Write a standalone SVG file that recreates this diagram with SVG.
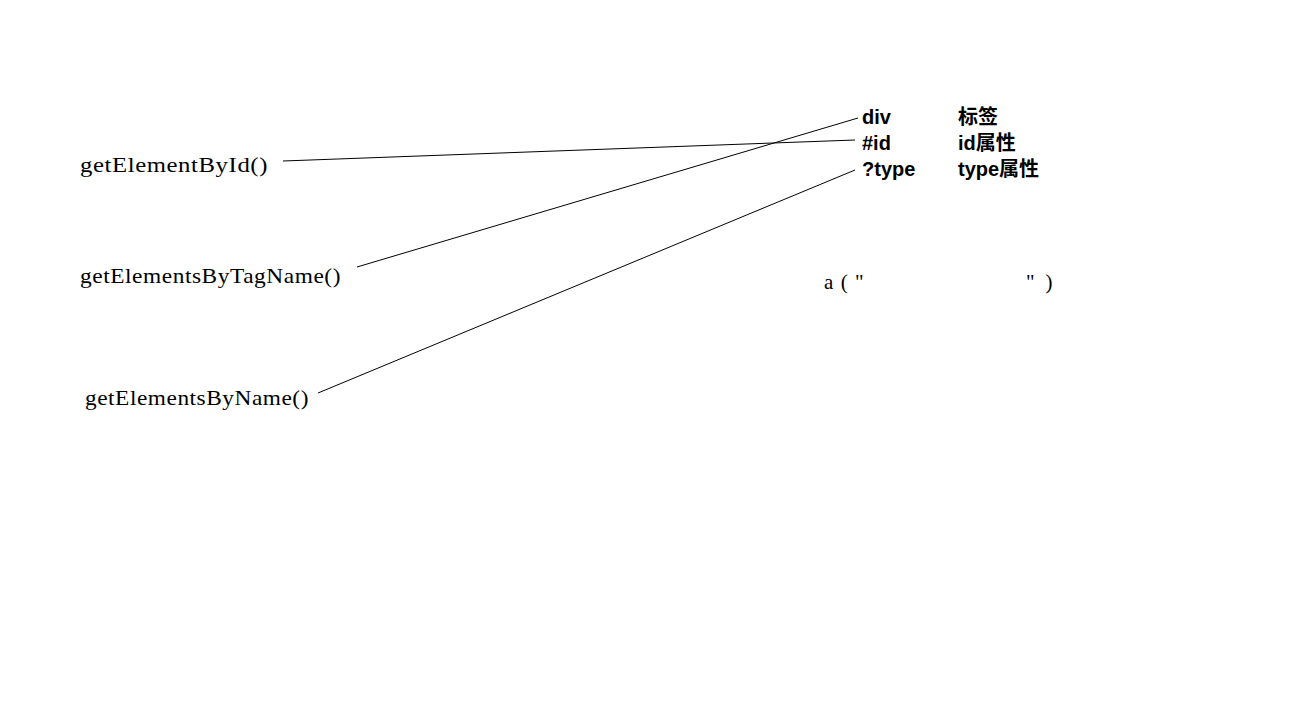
<svg xmlns="http://www.w3.org/2000/svg" width="1304" height="720" viewBox="0 0 1304 720">
<style>
.m{font-family:"Liberation Serif","DejaVu Serif",serif;font-size:21px;fill:#000;letter-spacing:0.5px}
.k{font-family:"Liberation Sans","Noto Sans CJK SC",sans-serif;font-size:20px;font-weight:bold;fill:#000}
.c line{stroke:#000;stroke-width:1}
</style>
<rect width="1304" height="720" fill="#fff"/>
<g id="n1"><text class="m" x="80" y="172" textLength="188" lengthAdjust="spacingAndGlyphs">getElementById()</text></g>
<g id="n2"><text class="m" x="80" y="283" textLength="261" lengthAdjust="spacingAndGlyphs">getElementsByTagName()</text></g>
<g id="n3"><text class="m" x="85" y="405" textLength="224" lengthAdjust="spacingAndGlyphs">getElementsByName()</text></g>
<g id="div"><text class="k" x="862" y="124">div</text><text class="k" x="958" y="124">标签</text></g>
<g id="id"><text class="k" x="862" y="150">#id</text><text class="k" x="958" y="150">id属性</text></g>
<g id="type"><text class="k" x="862" y="176">?type</text><text class="k" x="958" y="176">type属性</text></g>
<g id="a"><text class="m" x="824" y="289" textLength="40" lengthAdjust="spacing">a(&quot;</text><text class="m" x="1026" y="289" textLength="27" lengthAdjust="spacing">&quot;)</text></g>
<g class="c" id="connectors">
<line x1="283" y1="161" x2="855" y2="140"/>
<line x1="357" y1="267" x2="858" y2="118"/>
<line x1="318" y1="393" x2="855" y2="170"/>
</g>
</svg>
